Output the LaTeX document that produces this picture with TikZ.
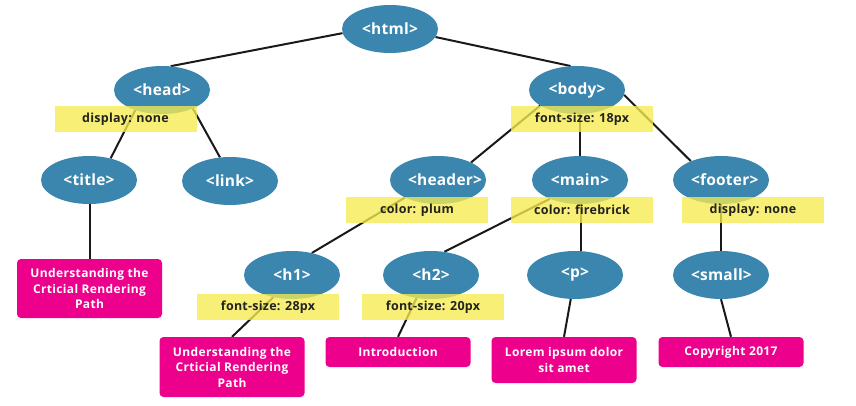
\documentclass[tikz,border=0pt]{standalone}
\usepackage{fontspec}
\setmainfont{Open Sans}
\newfontfamily\boxfont[LetterSpace=3]{Open Sans}
\newfontfamily\tagfont[LetterSpace=1.5]{Open Sans}
\newfontfamily\cssfont[LetterSpace=2]{Open Sans}
\usetikzlibrary{shapes.geometric,calc,backgrounds}
\definecolor{nodeblue}{RGB}{58,134,175}
\definecolor{hlyellow}{RGB}{245,234,80}
\definecolor{boxpink}{RGB}{236,0,140}
\definecolor{darktext}{RGB}{35,35,30}
\tikzset{
  tag/.style={ellipse, fill=nodeblue, minimum width=96pt, minimum height=48pt, inner sep=0pt,
    text width=60pt, align=center,
    text=white, font=\tagfont\bfseries\fontsize{15.5}{15.5}\selectfont},
  css/.style={rectangle, fill=hlyellow, fill opacity=0.78, text opacity=1, minimum width=142pt,
    minimum height=26pt, inner sep=0pt, text=darktext, font=\cssfont\bfseries\fontsize{12.5}{12.5}\selectfont},
  txt/.style={rectangle, rounded corners=4pt, fill=boxpink, minimum width=145pt, inner sep=3pt,
    text=white, align=center, font=\boxfont\bfseries\fontsize{12}{15.5}\selectfont},
  edge/.style={line width=2pt, black!90}
}
\begin{document}
\begin{tikzpicture}[x=1pt,y=-1pt]
\useasboundingbox (0,0) rectangle (856,406);
% tag nodes
\node[tag] (html) at (390,29) {<html>};
\node[tag] (head) at (162,90) {<head>};
\node[tag] (body) at (577,90) {<body>};
\node[tag] (title) at (89,180) {<title>};
\node[tag] (link) at (230,181) {<link>};
\node[tag] (header) at (438,180) {<header>};
\node[tag] (main) at (580,180) {<main>};
\node[tag] (footer) at (721,180) {<footer>};
\node[tag] (h1) at (292,275) {<h1>};
\node[tag] (h2) at (431,275) {<h2>};
\node[tag] (p) at (575,275) {<p>};
\node[tag] (small) at (721,275) {<small>};
% text boxes
\node[txt, minimum height=59pt] (tbox) at (89.5,288.5) {Understanding the\\Crticial Rendering\\Path};
\node[txt, minimum height=60pt] (h1box) at (232,367) {Understanding the\\Crticial Rendering\\Path};
\node[txt, minimum height=30pt] (introbox) at (398,352) {Introduction};
\node[txt, minimum height=46pt] (lorembox) at (564,360) {Lorem ipsum dolor\\sit amet};
\node[txt, minimum height=30pt] (copybox) at (731,352) {Copyright 2017};
% connectors (behind)
\begin{pgfonlayer}{background}
\draw[edge] (html.185) -- (head.70);
\draw[edge] (html.-10) -- (body.105);
\draw[edge] (head.217) -- (title.45);
\draw[edge] (head.-31) -- (link.113);
\draw[edge] (body.203) -- (header.28);
\draw[edge] (main.north) -- (main.north |- body.south);
\draw[edge] (body.-6) -- (footer.148);
\draw[edge] (header.208) -- (h1.48);
\draw[edge] (main.212) -- (h2.60);
\draw[edge] (p.75) -- (p.75 |- main.south);
\draw[edge] (small.north) -- (footer.south);
\draw[edge] (tbox.north) -- (tbox.north |- title.south);
\draw[edge] (h1.230) -- (h1box.north);
\draw[edge] (h2.238) -- (introbox.north);
\draw[edge] (p.-100) -- (lorembox.north);
\draw[edge] (small.south) -- (copybox.north);
\end{pgfonlayer}
% css overlays
\node[css] (cssHead) at (125.5,119.5) {display: none};
\node[css] (cssBody) at (582,119.5) {font-size: 18px};
\node[css] (cssHeader) at (417,210) {color: plum};
\node[css] (cssMain) at (582,210) {color: firebrick};
\node[css] (cssFooter) at (753,210) {display: none};
\node[css] (cssH1) at (268,307) {font-size: 28px};
\node[css] (cssH2) at (433,307) {font-size: 20px};
\end{tikzpicture}
\end{document}
